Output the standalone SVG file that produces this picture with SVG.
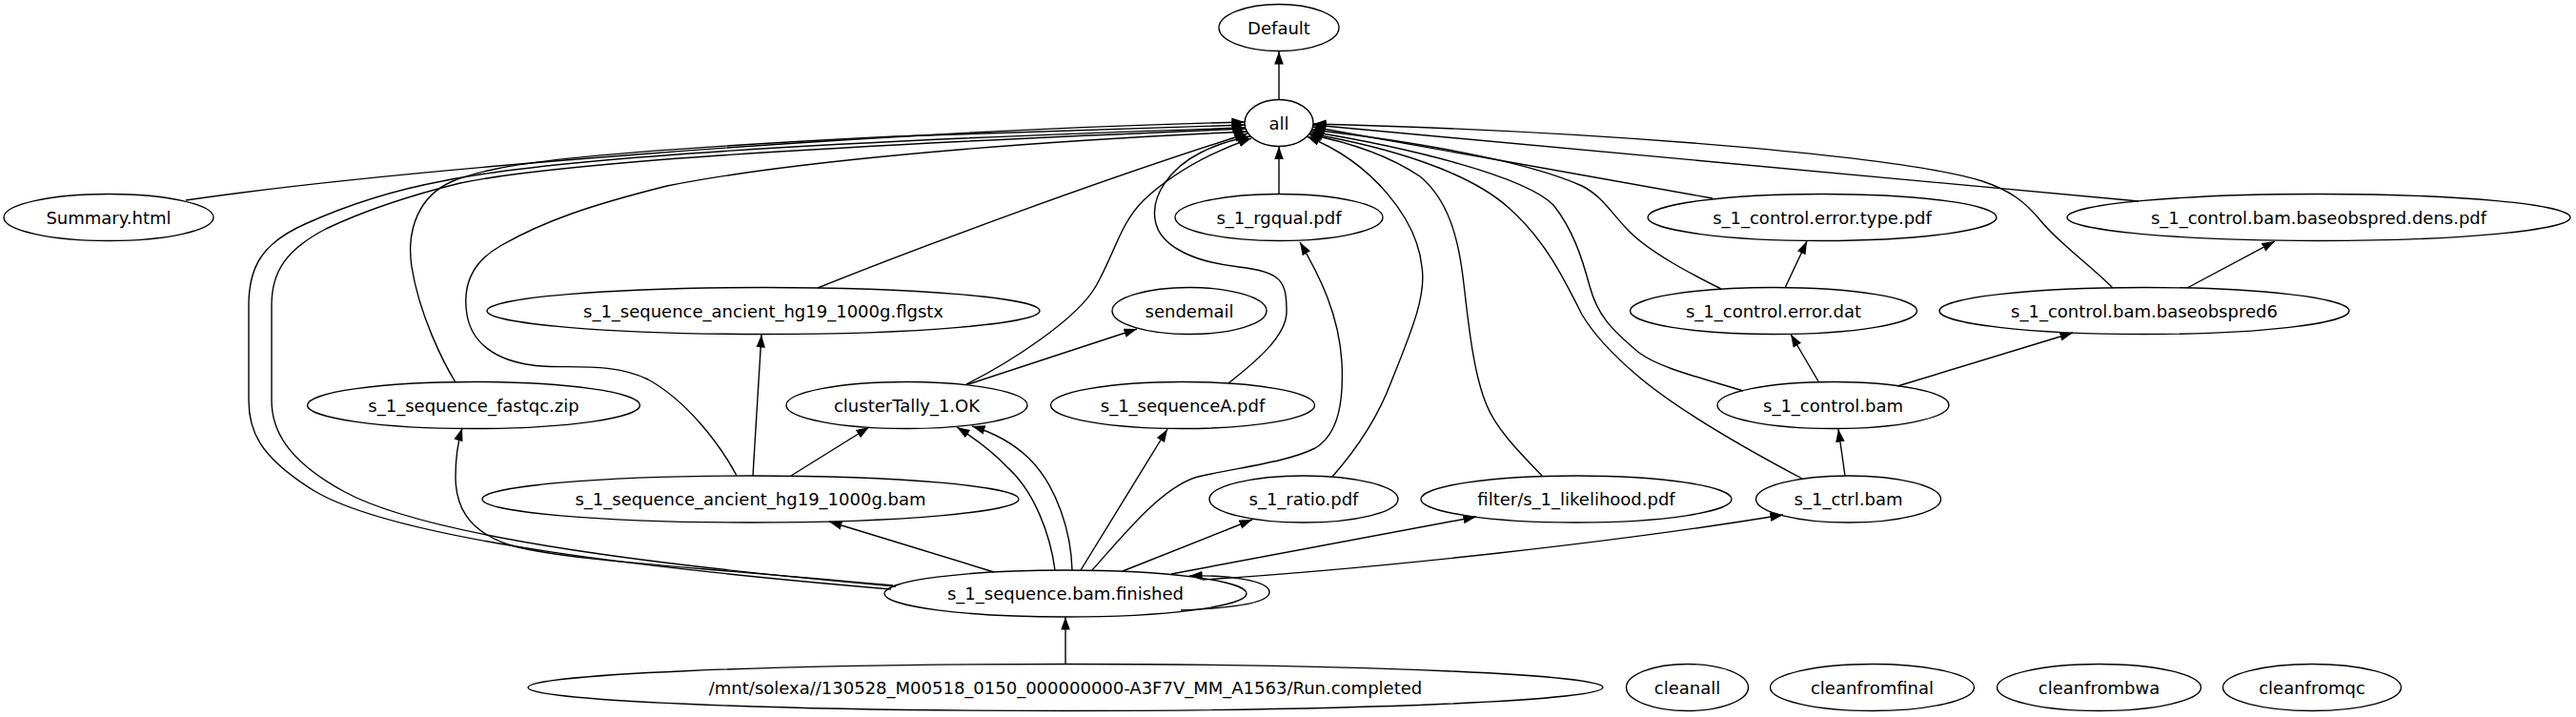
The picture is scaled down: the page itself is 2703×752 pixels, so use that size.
<svg xmlns="http://www.w3.org/2000/svg" width="2703" height="752" viewBox="0 0 2703 752">
<style>
.n ellipse{fill:none;stroke:#000;stroke-width:1.4}
.n text{font-family:"DejaVu Sans","Liberation Sans",sans-serif;font-size:18px;text-anchor:middle;fill:#000}
#edges path{fill:none;stroke:#000;stroke-width:1.4;marker-end:url(#ah)}
</style>
<defs>
<marker id="ah" markerUnits="userSpaceOnUse" markerWidth="14" markerHeight="10" refX="13.6" refY="5" orient="auto">
<polygon points="0,0.2 13.6,5 0,9.8" fill="#000"/>
</marker>
</defs>
<rect width="2703" height="752" fill="#fff"/>
<g id="edges">
<path d="M1342,104 L1342,54"/>
<path d="M1342,203.5 L1342,153.5"/>
<path d="M195,210 C400,180 900,138 1306,128"/>
<path d="M478,401 C465,380 440,330 432,280 C426,240 440,205 475,190 C520,172 600,160 940,143 C1100,137 1250,132 1306,131"/>
<path d="M935,618 C700,598 420,568 330,515 C270,478 261,450 261,420 L261,320 C261,280 275,255 320,235 C360,217 410,200 464,190 C560,170 800,150 1307,134"/>
<path d="M940,615 C710,595 450,565 360,515 C300,482 285,450 285,420 L285,320 C285,285 300,262 342,240 C380,222 430,205 483,192 C580,172 820,155 1307,135"/>
<path d="M773,499 C755,465 720,420 680,398 C640,378 590,388 559,383 C520,378 495,360 490,330 C485,300 495,275 525,258 C570,232 620,215 700,195 C800,175 1000,152 1308,138"/>
<path d="M858,302 C950,265 1150,190 1309,140"/>
<path d="M1014,403 C1060,380 1130,335 1150,300 C1170,265 1175,235 1200,210 C1230,182 1270,160 1313,145"/>
<path d="M1016,403 L1193,345"/>
<path d="M1289,402 C1310,385 1350,355 1350,327 C1350,295 1345,285 1300,280 C1255,275 1220,260 1213,235 C1205,205 1230,175 1260,160 C1280,150 1295,146 1312,143"/>
<path d="M1146,598 C1180,560 1220,510 1257,500 C1300,490 1350,485 1380,470 C1405,455 1410,420 1408,380 C1405,330 1385,290 1364,254"/>
<path d="M1107,598 C1102,560 1085,515 1057,490 C1040,472 1020,458 1004,448"/>
<path d="M1125,598 C1124,560 1110,510 1079,480 C1062,464 1040,453 1020,447"/>
<path d="M1134,598 L1225,450"/>
<path d="M1178,599 L1314,545"/>
<path d="M1229,602 L1549,542"/>
<path d="M1262,608 C1450,596 1700,568 1871,540"/>
<path d="M1239,640 C1290,638 1332,633 1332,621 C1332,609 1290,603 1248,604"/>
<path d="M1043,600 L870,547"/>
<path d="M937,614 C760,597 580,588 530,570 C490,555 478,530 478,500 C478,480 480,465 485,449"/>
<path d="M790,499 L799,351"/>
<path d="M830,499 L912,448"/>
<path d="M1118,697 L1118,647"/>
<path d="M1398,500 C1420,475 1445,440 1460,400 C1480,350 1497,310 1492,280 C1487,230 1440,170 1371,143"/>
<path d="M1618,499 C1595,475 1570,450 1560,425 C1545,390 1540,330 1535,290 C1530,250 1520,210 1490,185 C1460,165 1420,150 1373,141"/>
<path d="M1891,502 C1840,475 1760,430 1717,393 C1690,370 1672,350 1660,330 C1640,290 1620,250 1582,217 C1540,180 1460,155 1374,140"/>
<path d="M1829,410 C1780,395 1740,385 1720,370 C1690,345 1676,330 1668,300 C1660,270 1650,240 1630,215 C1600,185 1480,155 1375,138"/>
<path d="M1806,303 C1780,290 1730,265 1707,240 C1690,222 1680,205 1660,195 C1600,168 1480,148 1376,136"/>
<path d="M1797,208 L1377,133"/>
<path d="M2244,211 L1378,131"/>
<path d="M2217,302 C2190,275 2160,255 2140,230 C2125,212 2110,200 2080,190 C2000,165 1700,138 1378,130"/>
<path d="M1908,400 L1879,350.5"/>
<path d="M1991,405 L2175,349"/>
<path d="M1873,302 L1896,253"/>
<path d="M1936,499 L1929,450"/>
<path d="M2295,302 L2387,253"/>
</g>
<g id="Default" class="n"><ellipse cx="1342" cy="29" rx="63" ry="24.5"/><text x="1342" y="35.5">Default</text></g>
<g id="all" class="n"><ellipse cx="1342" cy="129" rx="36" ry="24.5"/><text x="1342" y="135.5">all</text></g>
<g id="Summary" class="n"><ellipse cx="114" cy="228" rx="110" ry="24.5"/><text x="114" y="234.5">Summary.html</text></g>
<g id="rgqual" class="n"><ellipse cx="1342" cy="228" rx="109" ry="24.5"/><text x="1342" y="234.5">s_1_rgqual.pdf</text></g>
<g id="errortype" class="n"><ellipse cx="1912" cy="228" rx="183" ry="24.5"/><text x="1912" y="234.5">s_1_control.error.type.pdf</text></g>
<g id="dens" class="n"><ellipse cx="2433" cy="228" rx="264" ry="24.5"/><text x="2433" y="234.5">s_1_control.bam.baseobspred.dens.pdf</text></g>
<g id="flgstx" class="n"><ellipse cx="801" cy="326" rx="290" ry="24.5"/><text x="801" y="332.5">s_1_sequence_ancient_hg19_1000g.flgstx</text></g>
<g id="sendemail" class="n"><ellipse cx="1248" cy="326" rx="81" ry="24.5"/><text x="1248" y="332.5">sendemail</text></g>
<g id="errordat" class="n"><ellipse cx="1861" cy="326" rx="150.5" ry="24.5"/><text x="1861" y="332.5">s_1_control.error.dat</text></g>
<g id="baseobspred6" class="n"><ellipse cx="2250" cy="326" rx="215" ry="24.5"/><text x="2250" y="332.5">s_1_control.bam.baseobspred6</text></g>
<g id="fastqc" class="n"><ellipse cx="497" cy="425" rx="174.5" ry="24.5"/><text x="497" y="431.5">s_1_sequence_fastqc.zip</text></g>
<g id="clusterTally" class="n"><ellipse cx="951.5" cy="425" rx="126.5" ry="24.5"/><text x="951.5" y="431.5">clusterTally_1.OK</text></g>
<g id="sequenceA" class="n"><ellipse cx="1241" cy="425" rx="138.5" ry="24.5"/><text x="1241" y="431.5">s_1_sequenceA.pdf</text></g>
<g id="controlbam" class="n"><ellipse cx="1923.5" cy="425" rx="121.5" ry="24.5"/><text x="1923.5" y="431.5">s_1_control.bam</text></g>
<g id="ancientbam" class="n"><ellipse cx="787.5" cy="523.5" rx="281.5" ry="24.5"/><text x="787.5" y="530">s_1_sequence_ancient_hg19_1000g.bam</text></g>
<g id="ratio" class="n"><ellipse cx="1368" cy="523.5" rx="99" ry="24.5"/><text x="1368" y="530">s_1_ratio.pdf</text></g>
<g id="likelihood" class="n"><ellipse cx="1654" cy="523.5" rx="163" ry="24.5"/><text x="1654" y="530">filter/s_1_likelihood.pdf</text></g>
<g id="ctrlbam" class="n"><ellipse cx="1939.5" cy="523.5" rx="97" ry="24.5"/><text x="1939.5" y="530">s_1_ctrl.bam</text></g>
<g id="finished" class="n"><ellipse cx="1118" cy="622.5" rx="190" ry="24.5"/><text x="1118" y="629">s_1_sequence.bam.finished</text></g>
<g id="runcompleted" class="n"><ellipse cx="1118" cy="721" rx="564" ry="24.5"/><text x="1118" y="727.5">/mnt/solexa//130528_M00518_0150_000000000-A3F7V_MM_A1563/Run.completed</text></g>
<g id="cleanall" class="n"><ellipse cx="1770.5" cy="721" rx="64" ry="24.5"/><text x="1770.5" y="727.5">cleanall</text></g>
<g id="cleanfromfinal" class="n"><ellipse cx="1964.5" cy="721" rx="107" ry="24.5"/><text x="1964.5" y="727.5">cleanfromfinal</text></g>
<g id="cleanfrombwa" class="n"><ellipse cx="2202.5" cy="721" rx="107" ry="24.5"/><text x="2202.5" y="727.5">cleanfrombwa</text></g>
<g id="cleanfromqc" class="n"><ellipse cx="2426" cy="721" rx="93.5" ry="24.5"/><text x="2426" y="727.5">cleanfromqc</text></g>
</svg>
